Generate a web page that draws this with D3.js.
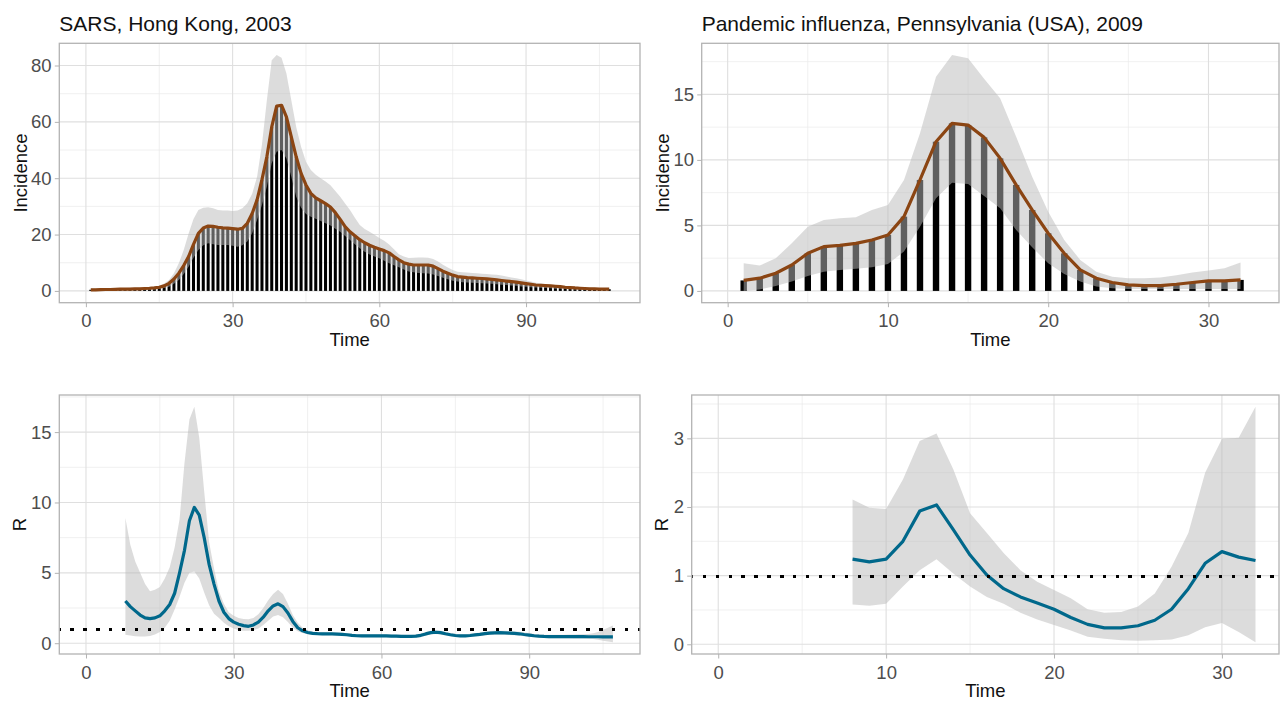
<!DOCTYPE html>
<html>
<head>
<meta charset="utf-8">
<script src="https://cdn.jsdelivr.net/npm/d3@7"></script>
<style>
  body { margin: 0; background: #fff; }
  svg { font-family: "Liberation Sans", Arial, sans-serif; }
  .grid-major { stroke: #dfdfdf; stroke-width: 1.1; }
  .grid-minor { stroke: #e9e9e9; stroke-width: 0.7; }
  .border { fill: none; stroke: #b3b3b3; stroke-width: 1.3; }
  .axis .tick line { stroke: #b3b3b3; stroke-width: 1; }
  .axis .tick text { fill: #4d4d4d; font-size: 18.5px; font-family: "Liberation Sans", Arial, sans-serif; }
  .axis-title { font-size: 18.5px; fill: #111; }
  .plot-title { font-size: 21px; fill: #111; }
</style>
</head>
<body>
<svg id="chart" width="1280" height="702"></svg>
<script>
// ---- data: SARS, Hong Kong, 2003 (days 1..107) ----
var sarsDays = d3.range(1, 108);
var sarsIncid = [0.4, 0.4, 0.45, 0.5, 0.5, 0.55, 0.6, 0.6, 0.65, 0.7,
  0.75, 0.85, 0.95, 1.1, 1.3, 1.8, 2.7, 4.2, 6.3, 9.0,
  12.2, 16.5, 20.4, 22.3, 23.0, 22.9, 22.6, 22.4, 22.3, 22.1,
  21.9, 22.2, 24.0, 27.5, 32.3, 39.5, 47.6, 58.2, 65.6, 65.9,
  61.8, 54.7, 47.6, 41.7, 37.6, 34.6, 33.0, 32.0, 31.0, 29.8,
  27.8, 25.4, 22.8, 21.0, 19.6, 18.2, 17.1, 16.2, 15.5, 14.9,
  14.3, 13.5, 12.2, 11.0, 10.0, 9.5, 9.2, 9.2, 9.2, 9.2,
  8.8, 7.9, 7.0, 6.3, 5.6, 5.1, 4.9, 4.7, 4.6, 4.5,
  4.4, 4.25, 4.1, 3.9, 3.7, 3.5, 3.3, 3.1, 2.85, 2.6,
  2.35, 2.1, 2.0, 1.9, 1.8, 1.65, 1.5, 1.3, 1.2, 1.05,
  0.95, 0.85, 0.75, 0.7, 0.65, 0.6, 0.6];
var sarsLow = [0.1, 0.1, 0.1, 0.12, 0.12, 0.14, 0.15, 0.15, 0.17, 0.2,
  0.25, 0.3, 0.4, 0.5, 0.8, 1.0, 1.5, 2.5, 3.9, 6.0,
  8.6, 11.8, 14.5, 16.2, 16.9, 16.6, 16.3, 16.3, 16.3, 16.0,
  15.7, 16.2, 17.5, 20.5, 25.2, 30.5, 37.0, 45.3, 49.4, 50.0,
  47.0, 40.5, 33.4, 29.5, 27.3, 26.3, 25.6, 24.8, 24.0, 23.2,
  22.1, 21.0, 19.5, 18.1, 16.6, 15.1, 13.9, 12.9, 12.2, 11.6,
  10.7, 9.8, 9.1, 8.4, 7.6, 6.9, 6.6, 6.4, 6.3, 6.2,
  5.8, 5.3, 4.7, 4.1, 3.6, 3.3, 3.1, 3.0, 2.9, 2.8,
  2.7, 2.6, 2.5, 2.4, 2.2, 2.1, 1.9, 1.8, 1.6, 1.5,
  1.3, 1.2, 1.1, 1.0, 0.9, 0.8, 0.75, 0.7, 0.6, 0.5,
  0.45, 0.4, 0.35, 0.3, 0.3, 0.25, 0.25];
var sarsHigh = [0.9, 0.9, 0.95, 0.95, 1.0, 1.0, 1.05, 1.05, 1.1, 1.1,
  1.15, 1.2, 1.3, 1.5, 1.8, 2.6, 3.9, 6.3, 9.8, 14.5,
  20.4, 25.5, 28.7, 29.5, 29.7, 29.3, 28.7, 28.5, 28.5, 28.4,
  28.5, 29.3, 31.1, 34.5, 40.5, 52.0, 67.7, 81.9, 83.7, 82.8,
  77.2, 67.7, 58.2, 51.2, 45.8, 42.9, 41.2, 40.0, 38.8, 37.5,
  35.5, 33.4, 31.0, 28.7, 26.0, 23.4, 22.0, 21.0, 19.9, 18.8,
  17.8, 16.5, 14.8, 13.0, 12.2, 11.7, 11.8, 11.9, 11.9, 11.8,
  11.3, 10.4, 9.3, 8.3, 7.4, 6.8, 6.6, 6.5, 6.4, 6.3,
  6.1, 6.0, 5.8, 5.7, 5.5, 5.1, 4.8, 4.5, 4.1, 3.7,
  3.3, 2.9, 2.7, 2.4, 2.2, 2.1, 1.9, 1.7, 1.6, 1.5,
  1.4, 1.3, 1.2, 1.1, 1.0, 1.0, 1.0];

// SARS reproduction number (days 8..107)
var sarsRDays = d3.range(8, 108);
var sarsR = [3.0, 2.6, 2.3, 2.0, 1.8, 1.75, 1.8, 1.95, 2.3, 2.75,
  3.55, 5.0, 6.6, 8.7, 9.65, 9.1, 7.5, 5.6, 4.2, 3.0,
  2.2, 1.75, 1.5, 1.35, 1.25, 1.2, 1.3, 1.5, 1.85, 2.3,
  2.65, 2.8, 2.6, 2.15, 1.55, 1.1, 0.88, 0.76, 0.7, 0.68,
  0.67, 0.66, 0.66, 0.65, 0.63, 0.6, 0.56, 0.53, 0.52, 0.52,
  0.52, 0.52, 0.52, 0.52, 0.51, 0.5, 0.49, 0.48, 0.48, 0.5,
  0.56, 0.66, 0.75, 0.78, 0.75, 0.67, 0.6, 0.55, 0.52, 0.52,
  0.55, 0.59, 0.63, 0.68, 0.72, 0.74, 0.75, 0.74, 0.72, 0.7,
  0.67, 0.62, 0.58, 0.53, 0.5, 0.48, 0.47, 0.47, 0.47, 0.47,
  0.47, 0.47, 0.47, 0.47, 0.46, 0.46, 0.46, 0.45, 0.45, 0.45];
var sarsRLow = [0.6, 0.55, 0.5, 0.48, 0.48, 0.52, 0.62, 0.8, 1.1, 1.6,
  2.4, 3.3, 4.3, 5.0, 5.1, 4.6, 3.6, 2.7, 2.1, 1.8,
  1.45, 1.2, 1.05, 0.92, 0.88, 0.88, 0.92, 1.05, 1.3, 1.6,
  1.9, 2.0, 1.85, 1.5, 1.1, 0.85, 0.72, 0.64, 0.6, 0.58,
  0.57, 0.56, 0.56, 0.55, 0.53, 0.5, 0.47, 0.44, 0.43, 0.43,
  0.43, 0.43, 0.43, 0.43, 0.42, 0.41, 0.4, 0.39, 0.39, 0.4,
  0.45, 0.54, 0.62, 0.65, 0.62, 0.55, 0.49, 0.44, 0.42, 0.42,
  0.45, 0.49, 0.52, 0.56, 0.6, 0.62, 0.62, 0.61, 0.59, 0.57,
  0.54, 0.5, 0.46, 0.42, 0.39, 0.37, 0.36, 0.36, 0.35, 0.35,
  0.35, 0.34, 0.34, 0.33, 0.32, 0.3, 0.25, 0.18, 0.12, 0.07];
var sarsRHigh = [8.9, 7.0, 5.8, 5.0, 4.2, 3.7, 3.8, 4.0, 4.6, 5.4,
  6.8, 8.8, 12.8, 15.9, 16.8, 14.6, 10.8, 7.2, 5.3, 3.7,
  2.8, 2.2, 1.95, 1.8, 1.72, 1.7, 1.8, 2.05, 2.5, 3.05,
  3.5, 3.8, 3.5, 2.8, 2.0, 1.45, 1.1, 0.92, 0.84, 0.8,
  0.78, 0.77, 0.77, 0.76, 0.74, 0.71, 0.67, 0.64, 0.63, 0.63,
  0.63, 0.63, 0.63, 0.63, 0.62, 0.61, 0.6, 0.59, 0.59, 0.62,
  0.69, 0.8, 0.89, 0.92, 0.89, 0.8, 0.72, 0.67, 0.64, 0.64,
  0.67, 0.71, 0.76, 0.82, 0.86, 0.88, 0.89, 0.88, 0.86, 0.84,
  0.81, 0.76, 0.72, 0.66, 0.63, 0.61, 0.6, 0.6, 0.61, 0.61,
  0.62, 0.62, 0.63, 0.64, 0.66, 0.7, 0.8, 0.95, 1.1, 1.25];

// ---- data: Pandemic influenza, Pennsylvania (USA), 2009 (days 1..32) ----
var fluDays = d3.range(1, 33);
var fluIncid = [0.8, 0.97, 1.35, 1.98, 2.87, 3.38, 3.48, 3.63, 3.89, 4.27,
  5.67, 8.47, 11.39, 12.79, 12.66, 11.72, 10.12, 8.09, 6.18, 4.40,
  2.87, 1.60, 0.97, 0.64, 0.46, 0.41, 0.41, 0.51, 0.64, 0.76,
  0.76, 0.84];
var fluLow = [0.0, 0.1, 0.38, 0.71, 1.14, 1.47, 1.60, 1.70, 1.81, 2.06,
  3.0, 4.9, 7.07, 8.26, 8.16, 7.25, 6.31, 4.65, 3.33, 2.11,
  1.30, 0.71, 0.33, 0.2, 0.15, 0.15, 0.15, 0.15, 0.15, 0.15,
  0.15, 0.15];
var fluHigh = [2.11, 1.93, 2.49, 3.63, 4.9, 5.42, 5.54, 5.62, 6.18, 6.56,
  8.47, 12.03, 16.35, 18.0, 17.75, 16.2, 14.7, 11.77, 8.72, 6.05,
  3.89, 2.36, 1.47, 1.09, 0.97, 0.97, 1.02, 1.2, 1.40, 1.55,
  1.73, 2.16];

// flu reproduction number (days 8..32)
var fluRDays = d3.range(8, 33);
var fluR = [1.24, 1.20, 1.24, 1.50, 1.94, 2.03, 1.67, 1.30, 1.01, 0.81,
  0.69, 0.60, 0.51, 0.39, 0.29, 0.24, 0.24, 0.27, 0.35, 0.51,
  0.81, 1.18, 1.35, 1.27, 1.22];
var fluRLow = [0.58, 0.56, 0.59, 0.84, 1.08, 1.24, 1.03, 0.84, 0.69, 0.59,
  0.46, 0.36, 0.28, 0.20, 0.11, 0.08, 0.06, 0.05, 0.06, 0.07,
  0.13, 0.25, 0.31, 0.18, 0.03];
var fluRHigh = [2.11, 1.99, 1.97, 2.40, 2.96, 3.07, 2.55, 1.91, 1.62, 1.33,
  1.08, 0.91, 0.79, 0.67, 0.51, 0.46, 0.47, 0.55, 0.74, 1.13,
  1.62, 2.5, 2.99, 3.01, 3.46];

// ticks
var sarsXTicks = [0, 30, 60, 90], sarsXMinor = [15, 45, 75, 105];
var fluXTicks = [0, 10, 20, 30], fluXMinor = [5, 15, 25];
var sarsIncTicks = [0, 20, 40, 60, 80], sarsIncMinor = [10, 30, 50, 70];
var fluIncTicks = [0, 5, 10, 15], fluIncMinor = [2.5, 7.5, 12.5, 17.5];
var sarsRTicks = [0, 5, 10, 15], sarsRMinor = [2.5, 7.5, 12.5, 17.5];
var fluRTicks = [0, 1, 2, 3], fluRMinor = [0.5, 1.5, 2.5, 3.5];

var svg = d3.select("#chart");
var ribbonFill = "rgb(187,187,187)";
var brown = "#8B4513", blue = "#00688B";

function zip(ts, a, lo, hi) {
  return ts.map(function(t, i) { return {t: t, v: a[i], lo: lo[i], hi: hi[i]}; });
}

// ggplot-like 5% expansion
function expand(lo, hi) {
  var pad = (hi - lo) * 0.05;
  return [lo - pad, hi + pad];
}

var clipId = 0;
function drawPanel(p) {
  var x = d3.scaleLinear().domain(p.xDomain).range([p.left, p.right]);
  var y = d3.scaleLinear().domain(p.yDomain).range([p.bottom, p.top]);
  var g = svg.append("g");

  // grid
  g.selectAll(".xm").data(p.xMinor).enter().append("line")
    .attr("class", "grid-minor")
    .attr("x1", d => x(d)).attr("x2", d => x(d))
    .attr("y1", p.top).attr("y2", p.bottom);
  g.selectAll(".ym").data(p.yMinor.filter(d => y(d) > p.top)).enter().append("line")
    .attr("class", "grid-minor")
    .attr("y1", d => y(d)).attr("y2", d => y(d))
    .attr("x1", p.left).attr("x2", p.right);
  g.selectAll(".xM").data(p.xTicks).enter().append("line")
    .attr("class", "grid-major")
    .attr("x1", d => x(d)).attr("x2", d => x(d))
    .attr("y1", p.top).attr("y2", p.bottom);
  g.selectAll(".yM").data(p.yTicks).enter().append("line")
    .attr("class", "grid-major")
    .attr("y1", d => y(d)).attr("y2", d => y(d))
    .attr("x1", p.left).attr("x2", p.right);

  var id = "clip" + (clipId++);
  svg.append("clipPath").attr("id", id).append("rect")
    .attr("x", p.left).attr("y", p.top)
    .attr("width", p.right - p.left).attr("height", p.bottom - p.top);
  var plot = g.append("g").attr("clip-path", "url(#" + id + ")");

  p.draw(plot, x, y);

  g.append("rect").attr("class", "border")
    .attr("x", p.left).attr("y", p.top)
    .attr("width", p.right - p.left).attr("height", p.bottom - p.top);

  var fmt = d3.format("~g");
  var xAxis = g.append("g").attr("class", "axis")
    .attr("transform", `translate(0, ${p.bottom})`)
    .call(d3.axisBottom(x).tickValues(p.xTicks).tickFormat(fmt).tickSize(4.5).tickPadding(7));
  var yAxis = g.append("g").attr("class", "axis")
    .attr("transform", `translate(${p.left}, 0)`)
    .call(d3.axisLeft(y).tickValues(p.yTicks).tickFormat(fmt).tickSize(4.5).tickPadding(3.2));
  xAxis.select(".domain").remove();
  yAxis.select(".domain").remove();
  xAxis.selectAll("text").attr("font-size", null).attr("font-family", null);
  yAxis.selectAll("text").attr("font-size", null).attr("font-family", null);

  // axis titles
  g.append("text").attr("class", "axis-title")
    .attr("x", (p.left + p.right) / 2).attr("y", p.bottom + 43)
    .attr("text-anchor", "middle").text("Time");
  g.append("text").attr("class", "axis-title")
    .attr("transform", `translate(${p.ylabX}, ${(p.top + p.bottom) / 2}) rotate(-90)`)
    .attr("text-anchor", "middle").text(p.ylab);
  if (p.title) {
    g.append("text").attr("class", "plot-title")
      .attr("x", p.left).attr("y", 31).text(p.title);
  }
}

function incidenceLayer(rows, barW) {
  return function(plot, x, y) {
    plot.selectAll(".bar").data(rows).enter().append("rect")
      .attr("x", d => x(d.t - barW / 2))
      .attr("width", d => x(d.t + barW / 2) - x(d.t - barW / 2))
      .attr("y", d => y(d.v))
      .attr("height", d => y(0) - y(d.v))
      .attr("fill", "#000");
    plot.append("path").datum(rows)
      .attr("d", d3.area().x(d => x(d.t)).y0(d => y(d.lo)).y1(d => y(d.hi)))
      .attr("fill", ribbonFill).attr("fill-opacity", 0.51);
    plot.append("path").datum(rows)
      .attr("d", d3.line().x(d => x(d.t)).y(d => y(d.v)))
      .attr("fill", "none").attr("stroke", brown).attr("stroke-width", 3.2)
      .attr("stroke-linejoin", "round");
  };
}

function rLayer(rows, left, right) {
  return function(plot, x, y) {
    plot.append("path").datum(rows)
      .attr("d", d3.area().x(d => x(d.t)).y0(d => y(d.lo)).y1(d => y(d.hi)))
      .attr("fill", ribbonFill).attr("fill-opacity", 0.51);
    plot.append("path").datum(rows)
      .attr("d", d3.line().x(d => x(d.t)).y(d => y(d.v)))
      .attr("fill", "none").attr("stroke", blue).attr("stroke-width", 3.2)
      .attr("stroke-linejoin", "round");
    var y1 = Math.round(y(1)) + 0.5;
    plot.append("line")
      .attr("x1", left).attr("x2", right)
      .attr("y1", y1).attr("y2", y1)
      .attr("stroke", "#000").attr("stroke-width", 3.4)
      .attr("shape-rendering", "crispEdges")
      .attr("stroke-dasharray", "3.4,9.5").attr("stroke-dashoffset", -11);
  };
}

var sarsRows = zip(sarsDays, sarsIncid, sarsLow, sarsHigh);
var fluRows = zip(fluDays, fluIncid, fluLow, fluHigh);
var sarsRRows = zip(sarsRDays, sarsR, sarsRLow, sarsRHigh);
var fluRRows = zip(fluRDays, fluR, fluRLow, fluRHigh);

drawPanel({
  left: 59.3, right: 640, top: 43.3, bottom: 302.7,
  xDomain: [-5.44, 113.3], yDomain: expand(0, d3.max(sarsHigh)),
  xTicks: sarsXTicks, xMinor: sarsXMinor, yTicks: sarsIncTicks, yMinor: sarsIncMinor,
  title: "SARS, Hong Kong, 2003", ylab: "Incidence", ylabX: 27,
  draw: incidenceLayer(sarsRows, 0.62)
});
drawPanel({
  left: 701.7, right: 1279, top: 43.3, bottom: 302.7,
  xDomain: [-1.62, 34.4], yDomain: expand(0, d3.max(fluHigh)),
  xTicks: fluXTicks, xMinor: fluXMinor, yTicks: fluIncTicks, yMinor: fluIncMinor,
  title: "Pandemic influenza, Pennsylvania (USA), 2009", ylab: "Incidence", ylabX: 669,
  draw: incidenceLayer(fluRows, 0.4)
});
drawPanel({
  left: 59.3, right: 640, top: 395, bottom: 654,
  xDomain: [-5.42, 112.5], yDomain: expand(d3.min(sarsRLow), d3.max(sarsRHigh)),
  xTicks: sarsXTicks, xMinor: sarsXMinor, yTicks: sarsRTicks, yMinor: sarsRMinor,
  ylab: "R", ylabX: 26,
  draw: rLayer(sarsRRows, 59.3, 640)
});
drawPanel({
  left: 691.7, right: 1279, top: 395, bottom: 654,
  xDomain: [-1.58, 33.4], yDomain: expand(d3.min(fluRLow), d3.max(fluRHigh)),
  xTicks: fluXTicks, xMinor: fluXMinor, yTicks: fluRTicks, yMinor: fluRMinor,
  ylab: "R", ylabX: 668,
  draw: rLayer(fluRRows, 691.7, 1279)
});
</script>
</body>
</html>
